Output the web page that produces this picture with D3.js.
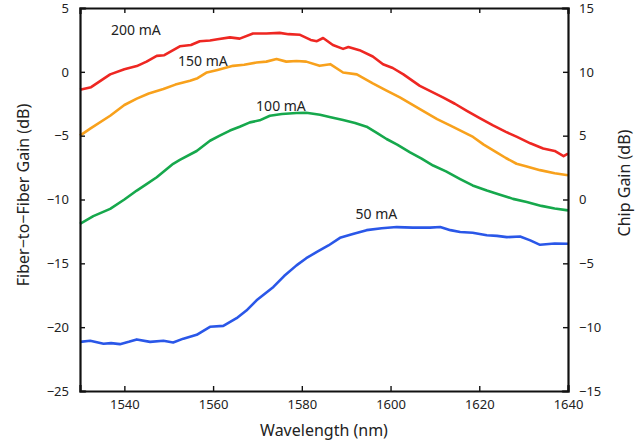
<!DOCTYPE html>
<html>
<head>
<meta charset="utf-8">
<script src="https://cdn.jsdelivr.net/npm/d3@7"></script>
<style>
  body { margin: 0; background: #fff; }
  svg text { font-family: "Noto Sans", "DejaVu Sans", sans-serif; fill: #222; }
</style>
</head>
<body>
<div id="chart"></div>
<script>
// wavelength (nm) / fiber-to-fiber gain (dB) per drive current
var wl200 = [1530, 1532.5, 1536.8, 1540, 1542.8, 1545, 1547.3, 1549, 1552.5, 1555, 1557, 1559.3, 1561, 1563.8, 1566, 1569, 1572, 1575, 1577, 1579.6, 1582, 1583.4, 1584.8, 1587, 1589.3, 1590.5, 1593, 1596, 1598.3, 1600.5, 1602.9, 1606.6, 1611.8, 1614.5, 1617.2, 1620, 1623.1, 1626, 1628.5, 1631.5, 1634.4, 1637, 1639, 1640];
var gain200 = [-1.4, -1.2, -0.2, 0.2, 0.45, 0.8, 1.25, 1.3, 2.0, 2.1, 2.4, 2.45, 2.55, 2.7, 2.6, 3.0, 3.0, 3.05, 2.95, 2.9, 2.5, 2.4, 2.65, 2.1, 1.8, 1.95, 1.7, 1.2, 0.6, 0.3, -0.2, -1.1, -2.0, -2.5, -3.05, -3.6, -4.2, -4.7, -5.1, -5.6, -6.0, -6.2, -6.6, -6.4];

var wl150 = [1530, 1532.3, 1536.8, 1540, 1542.8, 1545.5, 1548.8, 1551.5, 1554.8, 1556.5, 1558.6, 1561, 1564.5, 1567, 1569.8, 1572, 1574.3, 1576.5, 1578.8, 1581, 1584, 1586.4, 1589.3, 1592.4, 1596, 1599, 1602.1, 1607.3, 1610.5, 1613.4, 1618.6, 1621, 1623.9, 1626, 1628.4, 1630.5, 1633.7, 1637, 1640];
var gain150 = [-5.0, -4.45, -3.44, -2.6, -2.1, -1.7, -1.35, -1.0, -0.7, -0.5, -0.05, 0.15, 0.47, 0.55, 0.73, 0.8, 1.0, 0.8, 0.85, 0.8, 0.47, 0.6, -0.05, -0.2, -0.9, -1.45, -2.0, -3.05, -3.7, -4.2, -5.1, -5.7, -6.3, -6.75, -7.2, -7.4, -7.7, -7.95, -8.1];

var wl100 = [1530, 1533, 1536.8, 1540, 1542.8, 1545, 1547.3, 1551, 1552.5, 1556.3, 1559.3, 1561.5, 1563.8, 1566, 1568.3, 1570.5, 1572.8, 1575.5, 1578.8, 1581, 1584.1, 1586.5, 1589.3, 1592, 1594.6, 1597, 1599.1, 1601.5, 1604.4, 1607, 1609.6, 1612.5, 1615.7, 1618.5, 1621.7, 1624.5, 1627.6, 1630.7, 1634, 1637, 1640];
var gain100 = [-11.9, -11.3, -10.73, -10.0, -9.3, -8.8, -8.26, -7.2, -6.9, -6.2, -5.4, -5.0, -4.6, -4.3, -3.96, -3.8, -3.44, -3.3, -3.23, -3.2, -3.36, -3.55, -3.78, -4.0, -4.3, -4.8, -5.26, -5.7, -6.3, -6.8, -7.34, -7.8, -8.4, -8.9, -9.3, -9.6, -9.95, -10.2, -10.5, -10.7, -10.85];

var wl50 = [1530, 1532.3, 1535.3, 1537, 1539, 1541, 1542.8, 1545.8, 1548.8, 1551, 1553.3, 1556.3, 1559.3, 1562.3, 1565.3, 1567.5, 1569.8, 1573.6, 1576, 1578.8, 1581, 1583.4, 1586, 1588.6, 1591.5, 1594.6, 1598, 1601.4, 1605, 1608.9, 1611.2, 1613.5, 1615.7, 1618.5, 1621.7, 1624, 1626.2, 1629.2, 1631.5, 1633.7, 1637, 1640];
var gain50 = [-21.15, -21.07, -21.3, -21.25, -21.33, -21.15, -20.96, -21.15, -21.07, -21.2, -20.9, -20.6, -19.97, -19.9, -19.3, -18.7, -17.9, -16.85, -16.0, -15.16, -14.6, -14.1, -13.6, -13.0, -12.7, -12.4, -12.25, -12.16, -12.2, -12.2, -12.16, -12.4, -12.55, -12.6, -12.8, -12.85, -12.95, -12.9, -13.2, -13.55, -13.45, -13.47];

var seriesNames = ["200 mA", "150 mA", "100 mA", "50 mA"];
var seriesColors = ["#ee2722", "#f8a11c", "#16a84c", "#2a57e8"];
// label anchor points (wavelength, gain)
var labelWl = [1542.6, 1557.7, 1575.3, 1596.8];
var labelGain = [2.9, 0.45, -3.1, -11.55];

var xTicks = [1540, 1560, 1580, 1600, 1620, 1640];
var leftTicks = [5, 0, -5, -10, -15, -20, -25];
var rightTicks = [15, 10, 5, 0, -5, -10, -15];

var series = [
  { wl: wl200, g: gain200 },
  { wl: wl150, g: gain150 },
  { wl: wl100, g: gain100 },
  { wl: wl50, g: gain50 }
];

var W = 644, H = 442;
var margin = { top: 8, right: 76, bottom: 51, left: 80 },
  width = W - margin.left - margin.right,
  height = H - margin.top - margin.bottom;

var x = d3.scaleLinear().domain([1530, 1640]).range([0, width]),
  y = d3.scaleLinear().domain([-25, 5]).range([height, 0]),
  y2 = d3.scaleLinear().domain([-15, 15]).range([height, 0]);

var svg = d3.select("#chart").append("svg")
  .attr("width", W)
  .attr("height", H);

var g = svg.append("g")
  .attr("transform", "translate(" + margin.left + "," + margin.top + ")");

// curves
var line = d3.line()
  .x(function(d) { return x(d[0]); })
  .y(function(d) { return y(d[1]); });

series.forEach(function(s, i) {
  g.append("path")
    .datum(d3.zip(s.wl, s.g))
    .attr("fill", "none")
    .attr("stroke", seriesColors[i])
    .attr("stroke-width", 2.6)
    .attr("stroke-linejoin", "round")
    .attr("d", line);

  g.append("text")
    .attr("x", x(labelWl[i]))
    .attr("y", y(labelGain[i]))
    .attr("text-anchor", "middle")
    .style("font-size", "14px")
    .text(seriesNames[i]);
});

// axes: ticks pointing into the box
var xAxis = d3.axisBottom(x).tickValues(xTicks).tickSize(-5).tickPadding(9).tickFormat(d3.format("d")),
  xAxisTop = d3.axisTop(x).tickValues(xTicks).tickSize(-5).tickFormat(""),
  yAxis = d3.axisLeft(y).tickValues(leftTicks).tickSize(-5).tickPadding(11),
  yAxis2 = d3.axisRight(y2).tickValues(rightTicks).tickSize(-5).tickPadding(11);

function styleAxis(sel) {
  sel.select(".domain").attr("stroke", "#111").attr("stroke-width", 2.2);
  sel.selectAll(".tick line").attr("stroke", "#111").attr("stroke-width", 1.4);
  sel.selectAll(".tick text").style("font-size", "13px").attr("fill", "#222")
    .style("font-family", "'Noto Sans', 'DejaVu Sans', sans-serif");
}

g.append("g").attr("transform", "translate(0," + height + ")").call(xAxis).call(styleAxis);
g.append("g").call(xAxisTop).call(styleAxis);
g.append("g").call(yAxis).call(styleAxis);
g.append("g").attr("transform", "translate(" + width + ",0)").call(yAxis2).call(styleAxis);

svg.selectAll(".domain").attr("stroke-linecap", "square");

// titles
svg.append("text")
  .attr("x", margin.left + width / 2)
  .attr("y", 436)
  .attr("text-anchor", "middle")
  .style("font-size", "16px")
  .text("Wavelength (nm)");

svg.append("text")
  .attr("transform", "translate(29," + 195 + ") rotate(-90)")
  .attr("text-anchor", "middle")
  .style("font-size", "16px")
  .text("Fiber\u2212to\u2212Fiber Gain (dB)");

svg.append("text")
  .attr("transform", "translate(630," + 183 + ") rotate(-90)")
  .attr("text-anchor", "middle")
  .style("font-size", "16px")
  .text("Chip Gain (dB)");
</script>
</body>
</html>
